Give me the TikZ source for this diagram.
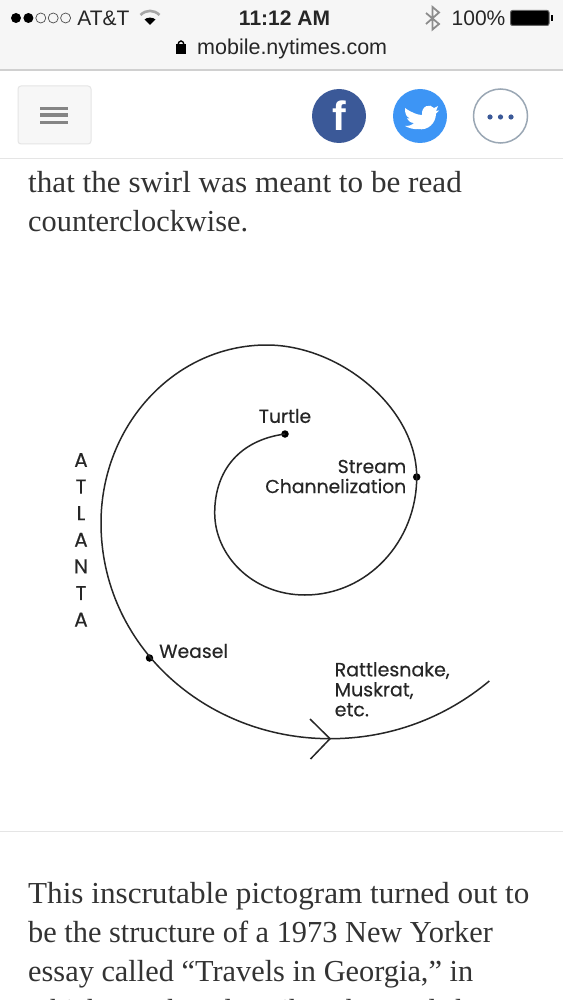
\documentclass[tikz,border=0pt]{standalone}
\usepackage{fontspec}
\newfontfamily\bodyfont[FakeStretch=1.022]{Liberation Serif}
\newfontfamily\bodynarrow[FakeStretch=0.995]{Liberation Serif}
\newfontfamily\barfont{Liberation Sans}
\newfontfamily\labelfont[FakeBold=0.35]{Poppins}
\usetikzlibrary{positioning}

\definecolor{barBg}{HTML}{F6F6F6}
\definecolor{ruleGray}{HTML}{D0D0D0}
\definecolor{bodyInk}{HTML}{333333}
\definecolor{fbBlue}{HTML}{3B5998}
\definecolor{twBlue}{HTML}{3D95F5}
\definecolor{moreGray}{HTML}{9AA7B4}

\begin{document}
\begin{tikzpicture}[
    x=1pt, y=-1pt,
    barlbl/.style={font=\barfont\fontsize{21}{24}\selectfont, text=black!85, inner sep=0pt},
    bodylbl/.style={font=\bodyfont\fontsize{30.5}{39}\selectfont, text=bodyInk, anchor=base west, inner sep=0pt},
    bodytight/.style={bodylbl, font=\bodynarrow\fontsize{30.5}{39}\selectfont},
    swirllbl/.style={font=\labelfont\fontsize{18.8}{20}\selectfont, text=black!85, inner sep=0pt, align=left},
    swirldot/.style={circle, fill=black, inner sep=0pt, minimum size=7.5pt},
    swirlline/.style={line width=1.5pt, black!85},
    sigfull/.style={circle, fill=black, inner sep=0pt, minimum size=10pt},
    sigempty/.style={circle, draw=black!70, line width=0.7pt, inner sep=0pt, minimum size=10pt},
    social/.style={circle, inner sep=0pt, minimum size=54pt},
]
\useasboundingbox (0,0) rectangle (563,1000);
\fill[white] (0,0) rectangle (563,1000);

% Browser bar
\fill[barBg] (0,0) rectangle (563,69);
\draw[ruleGray, line width=1.5pt] (0,70) -- (563,70);

% Signal dots
\foreach \x in {0,1} {
    \node[sigfull] at ({16+\x*12.4}, 18) {};
}
\foreach \x in {2,3,4} {
    \node[sigempty] at ({16+\x*12.4}, 18) {};
}
\node[barlbl] (carrier) at (103.5,18) {AT\&T};

% Wifi fan
\draw[black!35, line width=2.6pt] (140.5,15) .. controls (146,9.5) and (154,9.5) .. (159.5,15);
\fill[black] (150,25) -- (144.5,19.5) .. controls (147,17) and (153,17) .. (155.5,19.5) -- cycle;

\node[barlbl, font=\barfont\bfseries\fontsize{21}{24}\selectfont] (clock) at (284.5,18) {11:12 AM};

% Bluetooth
\draw[black!45, line width=1.8pt] (426,13) -- (439,24) -- (432.5,29.5) -- (432.5,7) -- (439,12.5) -- (426,24);

\node[barlbl, anchor=west] (percent) at (451.5,18) {100\%};

% Battery
\draw[black!60, line width=1pt, fill=black, rounded corners=2pt] (510.5,10.5) rectangle (549,25.5);
\fill[black] (550.5,15) rectangle (553,21);

% Address line
\fill[black] (176,44.5) rectangle (186,54);
\draw[black, line width=1.4pt] (178,45) arc (180:360:3 and 4);
\node[barlbl, anchor=west, font=\barfont\fontsize{21.5}{24}\selectfont] (address) at (197,48.5) {mobile.nytimes.com};

% Menu button
\draw[black!10, fill=black!3, rounded corners=3pt, line width=1pt] (18,86) rectangle (91,144);
\foreach \y in {108.5,115,122.5} {
    \draw[black!48, line width=3.2pt] (40,\y) -- (68,\y);
}

% Share buttons
\node[social, fill=fbBlue, text=white, font=\barfont\bfseries\fontsize{41}{41}\selectfont] (facebook) at (339,116) {f};
\node[social, fill=twBlue] (twitter) at (420,116) {};
\fill[white] (405,108) .. controls (412,113) and (418,115) .. (422,115)
    .. controls (421,106) and (430,103) .. (434,108)
    -- (438,106) -- (436,111) -- (439,110.5) -- (436,113.5)
    .. controls (436,123) and (428,131) .. (418,129)
    .. controls (413,129.5) and (409,128) .. (405,126)
    .. controls (409,126) and (411,125.5) .. (414,123)
    .. controls (410,123) and (408,120) .. (407,118.5)
    -- (410,118.5) .. controls (406,116.5) and (405,114) .. (405,108) -- cycle;
\node[social, draw=moreGray, line width=1.5pt, fill=white] (more) at (500.5,116) {};
\foreach \x in {-10.5,0,10.5} {
    \fill[fbBlue] ({500.5+\x}, 117) circle (2.6);
}
\draw[black!10, line width=1pt] (0,158.5) -- (563,158.5);

% Text above the figure
\node[bodylbl] (textA) at (28,193) {that the swirl was meant to be read};
\node[bodytight] (textB) at (28,232) {counterclockwise.};

% Swirl, drawn from the inside out
\coordinate (innerleft) at (214.7,513);
\coordinate (innerbottom) at (305,595);
\coordinate (top) at (266.7,345);
\coordinate (outerleft) at (101,523);
\coordinate (tip) at (330,738.7);
\coordinate (tailend) at (489.3,681);
\coordinate (barbup) at (310,719);
\coordinate (barbdown) at (310.5,759);

\node[swirldot] (turtledot) at (285,434) {};
\node[swirldot] (streamdot) at (416.7,477) {};
\node[swirldot] (weaseldot) at (149.5,658) {};

\draw[swirlline] (turtledot.center)
    .. controls (240,440) and (214.7,470) .. (innerleft)
    .. controls (214.7,555) and (252,595) .. (innerbottom)
    .. controls (367,595) and (416.7,542) .. (streamdot.center)
    .. controls (416.7,408) and (340,345) .. (top)
    .. controls (175,345) and (101,425) .. (outerleft)
    .. controls (101,645) and (205,738.7) .. (tip)
    .. controls (390,738.7) and (445,718) .. (tailend);
\draw[swirlline] (barbup) -- (tip) -- (barbdown);

% Labels
\node[swirllbl, anchor=center] (turtle) at (285,416) {Turtle};
\node[swirllbl, anchor=east, align=right] (stream) at (406.5,476.5) {Stream\\Channelization};
\node[swirllbl, anchor=west] (weasel) at (159,651) {Weasel};
\node[swirllbl, anchor=north west, font=\labelfont\fontsize{19}{20}\selectfont] (others) at (334.5,662) {Rattlesnake,\\Muskrat,\\etc.};

\foreach \t [count=\i] in {A,T,L,A,N,T,A} {
    \node[swirllbl, font=\labelfont\fontsize{20}{20}\selectfont] (city\i) at (81, {460+(\i-1)*26.6}) {\t};
}

\draw[black!10, line width=1pt] (0,831) -- (563,831);

% Text below the figure
\node[bodylbl] (textC) at (28,903.5) {This inscrutable pictogram turned out to};
\node[bodytight] (textD) at (28,942.5) {be the structure of a 1973 New Yorker};
\node[bodytight] (textE) at (28,981.5) {essay called “Travels in Georgia,” in};
\begin{scope}
\clip (0,985) rectangle (563,1000);
\node[bodytight] (textF) at (28,1020.5) {which McPhee describes the roads he};
\end{scope}
\end{tikzpicture}
\end{document}
